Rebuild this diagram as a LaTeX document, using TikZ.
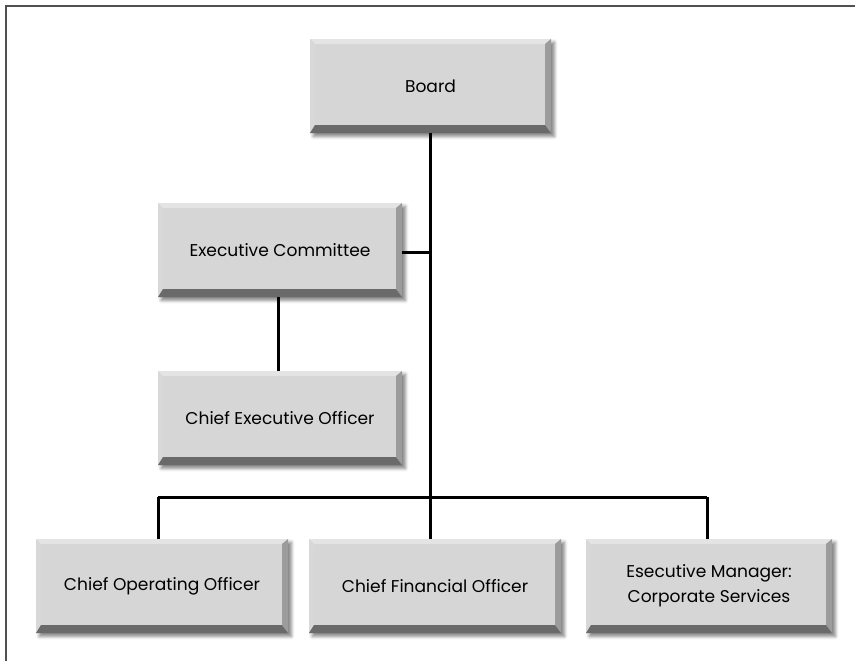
\documentclass[tikz,border=0pt]{standalone}
\usepackage{fontspec}
\setmainfont{Poppins}
\usetikzlibrary{calc,shadows.blur}

\definecolor{faceC}{HTML}{D6D6D6}
\definecolor{lightC}{HTML}{E4E4E4}
\definecolor{sideC}{HTML}{9C9C9C}
\definecolor{baseC}{HTML}{6A6A6A}
\definecolor{frameC}{HTML}{505050}

\def\pb{path picture bounding box}

\tikzset{
  bevelbox/.style n args={2}{
    minimum width={#1*0.75pt}, minimum height={#2*0.75pt},
    inner sep=0pt, outer sep=0pt, fill=faceC, align=center,
    font=\fontsize{12.8}{18.8}\selectfont,
    blur shadow={shadow xshift=2.5pt, shadow yshift=-2.5pt,
                 shadow blur radius=2.5pt, shadow opacity=50},
    path picture={
      % top bevel
      \fill[lightC] (\pb.north west) -- (\pb.north east)
        -- ([shift={(-4.5pt,-3.75pt)}]\pb.north east)
        -- ([shift={(3.75pt,-3.75pt)}]\pb.north west) -- cycle;
      % left bevel
      \fill[lightC!95!black] (\pb.north west) -- ([shift={(3.75pt,-3.75pt)}]\pb.north west)
        -- ([shift={(3.75pt,6pt)}]\pb.south west) -- (\pb.south west) -- cycle;
      % right bevel
      \fill[sideC] (\pb.north east) -- (\pb.south east)
        -- ([shift={(-4.5pt,6pt)}]\pb.south east)
        -- ([shift={(-4.5pt,-3.75pt)}]\pb.north east) -- cycle;
      % bottom bevel
      \fill[baseC] (\pb.south west) -- (\pb.south east)
        -- ([shift={(-4.5pt,6pt)}]\pb.south east)
        -- ([shift={(3.75pt,6pt)}]\pb.south west) -- cycle;
    }
  },
  link/.style={line width=2.25pt, black},
  frameline/.style={line width=1.6pt, frameC}
}

\begin{document}
\begin{tikzpicture}[x=0.75pt, y=-0.75pt]
  \useasboundingbox (0,0) rectangle (855,661);

  % page frame: top and left rules only
  \coordinate (fTR) at (855,6);
  \coordinate (fTL) at (6,6);
  \coordinate (fBL) at (6,661);
  \draw[frameline] (fTR) -- (fTL) -- (fBL);

  % boxes
  \node[bevelbox={241}{94}] (board) at (430.5,86) {Board};
  \node[bevelbox={244}{94}] (exec)  at (280,250) {Executive Committee};
  \node[bevelbox={244}{94}] (ceo)   at (280,418) {Chief Executive Officer};
  \node[bevelbox={252}{94}] (coo)   at (162,586) {Chief Operating Officer};
  \node[bevelbox={252}{94}] (cfo)   at (435,586) {Chief Financial Officer};
  \node[bevelbox={246}{94}] (ecs)   at (709,586) {Esecutive Manager:\\Corporate Services};

  % junction points
  \coordinate (spine) at (430,252);
  \coordinate (bus)   at (430,497);
  \coordinate (busL)  at (158,497);
  \coordinate (busR)  at (707,497);

  % connectors
  \draw[link] (board.south -| bus) -- (bus);
  \draw[link] (exec.east |- spine) -- (spine);
  \draw[link] ([xshift=-1.5pt]exec.south) -- ([xshift=-1.5pt]ceo.north);
  \draw[link] (busL) -- (busR);
  \draw[link] (busL) -- (coo.north -| busL);
  \draw[link] (bus) -- (cfo.north -| bus);
  \draw[link] (busR) -- (ecs.north -| busR);
\end{tikzpicture}
\end{document}
